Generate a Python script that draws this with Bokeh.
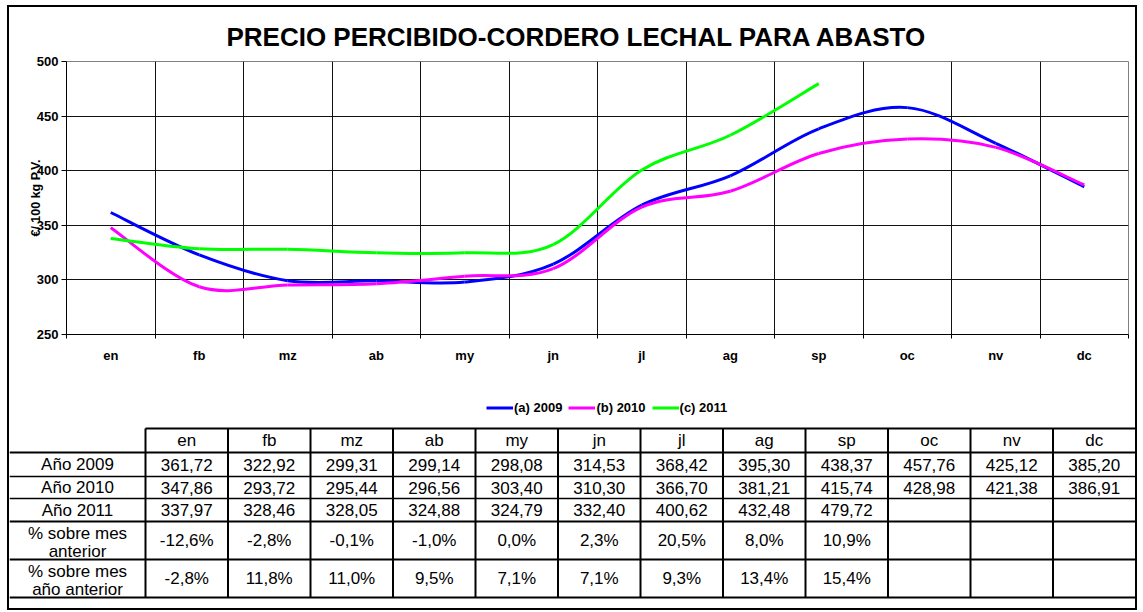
from bokeh.plotting import figure
from bokeh.models import (Range1d, FixedTicker, CustomJSTickFormatter, Legend,
                          LegendItem, ColumnDataSource)
from bokeh.layouts import column
from bokeh.embed import file_html
from bokeh.resources import INLINE
from bokeh.core.properties import value

# ---------------- data ----------------
months = ["en", "fb", "mz", "ab", "my", "jn", "jl", "ag", "sp", "oc", "nv", "dc"]
y2009 = [361.72, 322.92, 299.31, 299.14, 298.08, 314.53, 368.42, 395.30, 438.37, 457.76, 425.12, 385.20]
y2010 = [347.86, 293.72, 295.44, 296.56, 303.40, 310.30, 366.70, 381.21, 415.74, 428.98, 421.38, 386.91]
y2011 = [337.97, 328.46, 328.05, 324.88, 324.79, 332.40, 400.62, 432.48, 479.72]
pct_prev_month = [-12.6, -2.8, -0.1, -1.0, 0.0, 2.3, 20.5, 8.0, 10.9]
pct_prev_year = [-2.8, 11.8, 11.0, 9.5, 7.1, 7.1, 9.3, 13.4, 15.4]
series_names = ["(a) 2009", "(b) 2010", "(c) 2011"]
series_colors = ["#0000FF", "#FF00FF", "#00FF00"]
row_labels = ["Año 2009", "Año 2010", "Año 2011", "% sobre mes\nanterior", "% sobre mes\naño anterior"]
y_ticks = [250, 300, 350, 400, 450, 500]
title_text = "PRECIO PERCIBIDO-CORDERO LECHAL PARA ABASTO"
y_label = "€/ 100 kg P.V."

FONT = "Liberation Sans"
W = 1126
NAN = float("nan")


def smooth_source(vals):
    """Bezier segments (Catmull-Rom style, like a smoothed spreadsheet line)."""
    n = len(vals)
    pts = [(i + 0.5, v) for i, v in enumerate(vals)]
    d = {k: [] for k in ("x0", "y0", "x1", "y1", "cx0", "cy0", "cx1", "cy1")}
    for i in range(n - 1):
        p0 = pts[i - 1] if i > 0 else pts[i]
        p1 = pts[i]
        p2 = pts[i + 1]
        p3 = pts[i + 2] if i + 2 < n else pts[i + 1]
        d["x0"].append(p1[0]); d["y0"].append(p1[1])
        d["x1"].append(p2[0]); d["y1"].append(p2[1])
        d["cx0"].append(p1[0] + (p2[0] - p0[0]) / 6)
        d["cy0"].append(p1[1] + (p2[1] - p0[1]) / 6)
        d["cx1"].append(p2[0] - (p3[0] - p1[0]) / 6)
        d["cy1"].append(p2[1] - (p3[1] - p1[1]) / 6)
    return ColumnDataSource(d)


def blank_figure(h):
    f = figure(width=W, height=h, x_range=Range1d(0, W), y_range=Range1d(h, 0),
               output_backend="svg", toolbar_location=None, min_border=0)
    f.frame_align = False
    f.axis.visible = False
    f.grid.visible = False
    f.outline_line_color = None
    f.background_fill_color = "white"
    f.border_fill_color = "white"
    return f


# ---------------- title ----------------
TTH = 44
tf = blank_figure(TTH)
tf.text(x=[567.5], y=[29], text=[title_text], text_align="center",
        text_baseline="alphabetic", text_font=value(FONT), text_font_style="bold",
        text_font_size="26px", text_color="black")

# ---------------- chart ----------------
p = figure(width=W, height=329, x_range=Range1d(0, 12), y_range=Range1d(250, 500),
           output_backend="svg", toolbar_location=None,
           min_border_left=57, min_border_right=7, min_border_top=10, min_border_bottom=46)
p.frame_align = False
p.background_fill_color = "white"
p.border_fill_color = "white"
p.outline_line_color = "#808080"

p.xaxis.ticker = FixedTicker(ticks=[i + 0.5 for i in range(len(months))],
                             minor_ticks=list(range(len(months) + 1)))
p.xaxis.formatter = CustomJSTickFormatter(args=dict(labels=months),
                                          code="return labels[Math.floor(tick)]")
p.xaxis.major_tick_out = 0
p.xaxis.major_tick_in = 0
p.xaxis.minor_tick_out = 4
p.xaxis.minor_tick_in = 0
p.xaxis.minor_tick_line_color = "black"
p.xaxis.major_label_standoff = 9

p.yaxis.ticker = FixedTicker(ticks=y_ticks)
p.yaxis.major_tick_out = 5
p.yaxis.major_tick_in = 0
p.yaxis.minor_tick_out = 0
p.yaxis.minor_tick_in = 0
p.yaxis.major_label_standoff = 3
p.yaxis.axis_label = y_label
p.yaxis.axis_label_text_font = FONT
p.yaxis.axis_label_text_font_style = "bold"
p.yaxis.axis_label_text_font_size = "12.5px"
p.yaxis.axis_label_text_color = "black"
p.yaxis.axis_label_standoff = -9

for ax in (p.xaxis, p.yaxis):
    ax.axis_line_color = "black"
    ax.axis_line_width = 1
    ax.major_tick_line_color = "black"
    ax.major_label_text_font = FONT
    ax.major_label_text_font_style = "bold"
    ax.major_label_text_font_size = "13px"
    ax.major_label_text_color = "black"

p.xgrid.ticker = FixedTicker(ticks=list(range(len(months) + 1)))
p.xgrid.grid_line_color = "#111111"
p.ygrid.grid_line_color = "#111111"

for col, vals in zip(series_colors, [y2009, y2010, y2011]):
    p.bezier(x0="x0", y0="y0", x1="x1", y1="y1", cx0="cx0", cy0="cy0",
             cx1="cx1", cy1="cy1", source=smooth_source(vals),
             line_color=col, line_width=3)

# ---------------- legend + table ----------------
TH = 228
t = blank_figure(TH)

items = []
for name, col in zip(series_names, series_colors):
    # legend proxy (no visible data) for the series drawn in the chart above
    r = t.line(x=[NAN, NAN], y=[NAN, NAN], line_color=col, line_width=3)
    items.append(LegendItem(label=name, renderers=[r]))
legend = Legend(items=items, orientation="horizontal", location=(477, TH - 35),
                label_text_font=FONT, label_text_font_style="bold",
                label_text_font_size="13px", label_text_color="black",
                glyph_width=27, glyph_height=13,
                label_standoff=1, spacing=6, padding=0, margin=0,
                border_line_color=None, background_fill_alpha=0)
t.add_layout(legend, "center")

label_w = 136
col_w = (W - label_w) / len(months)
row_edges = [48, 72, 96, 118, 141, 179, 217]
col_edges = [label_w + i * col_w for i in range(len(months) + 1)]

# vertical lines
t.segment(x0=col_edges[:-1], y0=[row_edges[0]] * len(months), x1=col_edges[:-1],
          y1=[row_edges[-1]] * len(months), line_color="black", line_width=2)
# header top line
t.segment(x0=[label_w], y0=[row_edges[0]], x1=[W], y1=[row_edges[0]],
          line_color="black", line_width=2)
# row lines
t.segment(x0=[0] * 6, y0=row_edges[1:], x1=[W] * 6, y1=row_edges[1:],
          line_color="black", line_width=[2, 1.5, 1.5, 2, 2, 2])

centers_x = [label_w + (i + 0.5) * col_w for i in range(len(months))]
row_c = [(row_edges[i] + row_edges[i + 1]) / 2 for i in range(len(row_edges) - 1)]

txt = dict(text_font=value(FONT), text_font_size="17px", text_align="center",
           text_baseline="middle", text_color="black")

t.text(x=centers_x, y=[row_c[0]] * len(months), text=months, **txt)


def fnum(v):
    return f"{v:.2f}".replace(".", ",")


def fpct(v):
    return f"{v:.1f}%".replace(".", ",")


rows = [[fnum(v) for v in y2009], [fnum(v) for v in y2010], [fnum(v) for v in y2011],
        [fpct(v) for v in pct_prev_month], [fpct(v) for v in pct_prev_year]]
for ri, vals in enumerate(rows):
    yc = row_c[ri + 1]
    t.text(x=centers_x[:len(vals)], y=[yc] * len(vals), text=vals, **txt)

t.text(x=[label_w / 2] * 3, y=row_c[1:4], text=row_labels[:3], **txt)
t.text(x=[label_w / 2] * 2, y=[c + 2 for c in row_c[4:6]], text=row_labels[3:],
       text_line_height=0.95, **txt)

layout = column(tf, p, t, styles={"border": "2px solid black", "background": "white",
                                  "margin": "5px 0 0 7px"})

open("out.html", "w").write(file_html(layout, INLINE))
